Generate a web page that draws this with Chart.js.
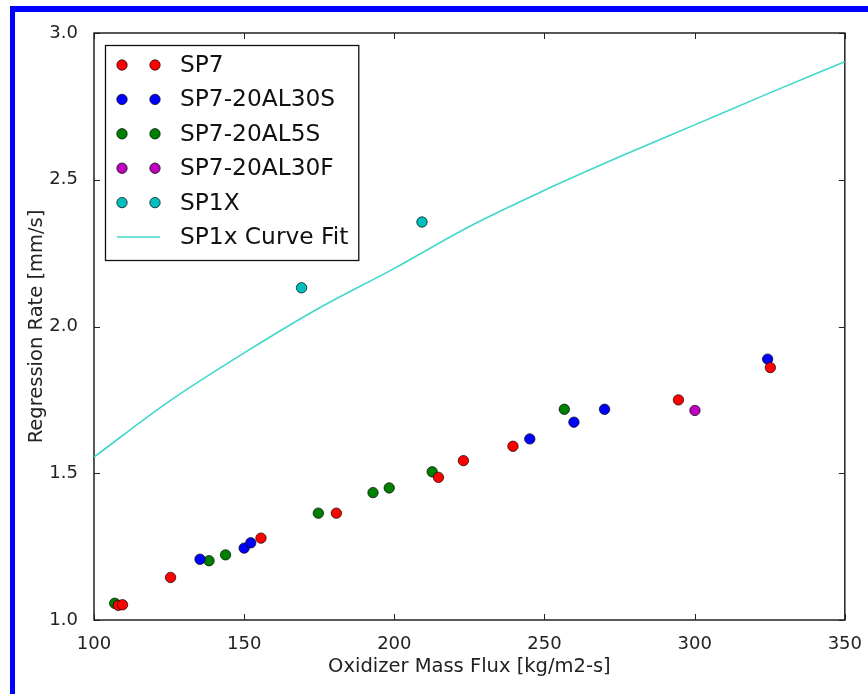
<!DOCTYPE html>
<html>
<head>
<meta charset="utf-8">
<title>Regression Rate vs Oxidizer Mass Flux</title>
<script src="https://cdn.jsdelivr.net/npm/chart.js@4.4.1/dist/chart.umd.min.js"></script>
<style>
  html, body { margin: 0; padding: 0; background: #fff; overflow: hidden; }
  #wrap { position: relative; width: 868px; height: 694px; }
  #frame {
    position: absolute; left: 10px; top: 6px; width: 2000px; height: 2000px;
    border-left: 5px solid #0000ff; border-top: 6px solid #0000ff;
    pointer-events: none;
  }
</style>
</head>
<body>
<div id="wrap">
  <canvas id="regChart" width="868" height="694"></canvas>
  <div id="frame"></div>
</div>
<script>
// oxidizer mass flux [kg/m2-s] and regression rate [mm/s] for each grain
const sp7Flux = [108.1, 109.5, 125.5, 155.6, 180.7, 214.7, 223.0, 239.5, 294.6, 325.2];
const sp7Rate = [1.050, 1.052, 1.145, 1.279, 1.364, 1.486, 1.543, 1.592, 1.750, 1.860];

const al30sFlux = [135.3, 150.0, 152.2, 245.1, 259.8, 270.0, 324.3];
const al30sRate = [1.207, 1.245, 1.263, 1.617, 1.674, 1.718, 1.889];

const al5sFlux = [106.9, 138.3, 143.8, 174.7, 192.9, 198.3, 212.6, 256.6];
const al5sRate = [1.057, 1.202, 1.222, 1.364, 1.434, 1.450, 1.505, 1.718];

const al30fFlux = [300.1];
const al30fRate = [1.714];

const sp1xFlux = [169.1, 209.2];
const sp1xRate = [2.132, 2.356];

// power-law fit through the SP1X runs
const fitFlux = [100, 125, 150, 175, 200, 225, 250, 275, 300, 325, 350];
const fitRate = [1.555, 1.745, 1.91, 2.063, 2.198, 2.341, 2.464, 2.578, 2.687, 2.796, 2.902];

const xTicks = [100, 150, 200, 250, 300, 350];
const yTicks = [1.0, 1.5, 2.0, 2.5, 3.0];

function pairs(xs, ys) {
    return xs.map((x, i) => ({ x: x, y: ys[i] }));
}

function dots(label, xs, ys, color) {
    return {
        label: label,
        data: pairs(xs, ys),
        backgroundColor: color,
        borderColor: '#000',
        pointRadius: 5.2,
        pointBorderWidth: 0.7,
        showLine: false
    };
}

const FONT = "'DejaVu Sans', Verdana, sans-serif";

// box with inward ticks on all four sides, like the classic matplotlib axes
const frameTicks = {
    id: 'frameTicks',
    beforeDatasetsDraw(chart) {
        const { ctx, chartArea: a, scales: { x, y } } = chart;
        const len = 6;
        ctx.save();
        ctx.strokeStyle = '#222';
        ctx.lineWidth = 1.5;
        ctx.strokeRect(a.left, a.top, a.right - a.left, a.bottom - a.top);
        ctx.beginPath();
        xTicks.forEach(v => {
            const px = Math.round(x.getPixelForValue(v)) + 0.5;
            ctx.moveTo(px, a.bottom); ctx.lineTo(px, a.bottom - len);
            ctx.moveTo(px, a.top); ctx.lineTo(px, a.top + len);
        });
        yTicks.forEach(v => {
            const py = Math.round(y.getPixelForValue(v)) + 0.5;
            ctx.moveTo(a.left, py); ctx.lineTo(a.left + len, py);
            ctx.moveTo(a.right, py); ctx.lineTo(a.right - len, py);
        });
        ctx.lineWidth = 1;
        ctx.stroke();
        ctx.restore();
    }
};

// legend in the upper-left corner, two markers per entry
const cornerLegend = {
    id: 'cornerLegend',
    afterDraw(chart) {
        const { ctx, chartArea: a } = chart;
        const sets = chart.data.datasets;
        const left = a.left + 11, top = a.top + 12;
        const rowH = 34.4, firstRow = 20;
        const m1 = left + 17, m2 = left + 50, textX = left + 75;
        ctx.save();
        ctx.font = "23.3px " + FONT;
        let maxW = 0;
        sets.forEach(ds => { maxW = Math.max(maxW, ctx.measureText(ds.label).width); });
        const w = textX + maxW + 10 - left;
        const h = firstRow + rowH * (sets.length - 1) + 23;
        ctx.fillStyle = '#fff';
        ctx.fillRect(left, top, w, h);
        ctx.strokeStyle = '#111';
        ctx.lineWidth = 1.3;
        ctx.strokeRect(left + 0.5, top + 0.5, w, h);

        sets.forEach((ds, i) => {
            const cy = top + firstRow + rowH * i;
            if (ds.showLine) {
                ctx.strokeStyle = ds.borderColor;
                ctx.lineWidth = ds.borderWidth;
                ctx.beginPath();
                ctx.moveTo(m1 - 5, cy); ctx.lineTo(m2 + 5, cy);
                ctx.stroke();
            } else {
                [m1, m2].forEach(mx => {
                    ctx.beginPath();
                    ctx.arc(mx, cy, ds.pointRadius, 0, Math.PI * 2);
                    ctx.fillStyle = ds.backgroundColor;
                    ctx.fill();
                    ctx.lineWidth = ds.pointBorderWidth;
                    ctx.strokeStyle = ds.borderColor;
                    ctx.stroke();
                });
            }
            ctx.fillStyle = '#111';
            ctx.textAlign = 'left';
            ctx.textBaseline = 'middle';
            ctx.fillText(ds.label, textX, cy + 1);
        });
        ctx.restore();
    }
};

const ctx = document.getElementById('regChart').getContext('2d');
new Chart(ctx, {
    type: 'scatter',
    data: {
        datasets: [
            dots('SP7', sp7Flux, sp7Rate, '#ff0000'),
            dots('SP7-20AL30S', al30sFlux, al30sRate, '#0000ff'),
            dots('SP7-20AL5S', al5sFlux, al5sRate, '#008000'),
            dots('SP7-20AL30F', al30fFlux, al30fRate, '#bf00bf'),
            dots('SP1X', sp1xFlux, sp1xRate, '#00bfbf'),
            {
                label: 'SP1x Curve Fit',
                data: pairs(fitFlux, fitRate),
                showLine: true,
                borderColor: '#40d8c8',
                borderWidth: 1.6,
                pointRadius: 0,
                cubicInterpolationMode: 'monotone',
                fill: false
            }
        ]
    },
    options: {
        responsive: false,
        animation: false,
        events: [],
        layout: { padding: { left: 0, top: 33, right: 22, bottom: 0 } },
        scales: {
            x: {
                type: 'linear',
                min: 100,
                max: 350,
                afterFit: s => { s.height = 74; },
                afterBuildTicks: s => { s.ticks = xTicks.map(v => ({ value: v })); },
                grid: { display: false },
                border: { display: false },
                ticks: {
                    padding: 6,
                    color: '#222',
                    font: { family: FONT, size: 18 },
                    callback: v => String(v)
                },
                title: {
                    display: true,
                    text: 'Oxidizer Mass Flux [kg/m2-s]',
                    color: '#222',
                    font: { family: FONT, size: 19.5 },
                    padding: { top: 0, bottom: 15 }
                }
            },
            y: {
                type: 'linear',
                min: 1,
                max: 3,
                afterFit: s => { s.width = 94; },
                afterBuildTicks: s => { s.ticks = yTicks.map(v => ({ value: v })); },
                grid: { display: false },
                border: { display: false },
                ticks: {
                    padding: 8,
                    color: '#222',
                    font: { family: FONT, size: 18 },
                    callback: v => v.toFixed(1)
                },
                title: {
                    display: true,
                    text: 'Regression Rate [mm/s]',
                    color: '#222',
                    font: { family: FONT, size: 19.5 },
                    padding: { top: 25, bottom: 0 }
                }
            }
        },
        plugins: {
            legend: { display: false },
            tooltip: { enabled: false }
        }
    },
    plugins: [frameTicks, cornerLegend]
});
</script>
</body>
</html>
